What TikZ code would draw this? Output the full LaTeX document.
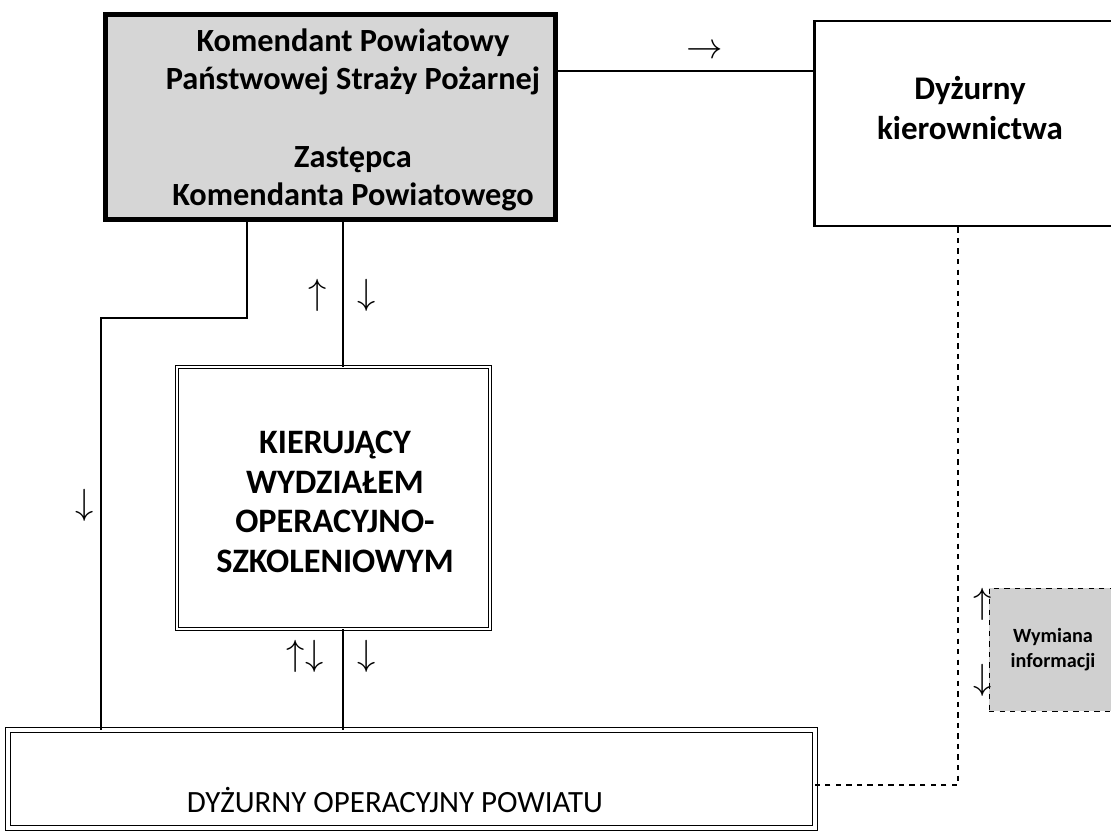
\documentclass[tikz,border=0pt]{standalone}
\usepackage{fontspec}
\setmainfont{Carlito}
\definecolor{boxgray}{RGB}{214,214,214}
\definecolor{infogray}{RGB}{208,208,208}
\begin{document}
\begin{tikzpicture}[x=0.02cm,y=-0.02cm,thick,
    chief/.style={draw,line width=2.6pt,fill=boxgray,minimum width=9.0cm,minimum height=4.1cm},
    duty/.style={draw,line width=1.6pt,fill=white,minimum width=6.22cm,minimum height=4.1cm},
    dbl/.style={draw,double,double distance=1.6pt,line width=0.5pt},
    info/.style={draw,dashed,line width=0.5pt,fill=infogray,minimum width=2.56cm,minimum height=2.46cm},
    conn/.style={line width=1.2pt},
    big/.style={font=\bfseries\fontsize{18.4}{22}\selectfont,align=center},
    arr/.style={font=\fontsize{22}{22}\selectfont,inner sep=0}]
    \useasboundingbox (0,0) rectangle (1111,831);
    %boxes
    \node (KPS) at (330.5,117) [chief]{};
    \node (KPStext) at (353,120) [big]{Komendant Powiatowy\\Państwowej Straży Pożarnej\\[22pt]Zastępca\\Komendanta Powiatowego};
    \node (DK) at (970,123.5) [duty]{};
    \node (DKtext) at (970,108) [big,font=\bfseries\fontsize{18.8}{22.7}\selectfont]{Dyżurny\\kierownictwa};
    \node (KIER) at (333.5,498) [dbl,minimum width=6.26cm,minimum height=5.24cm]{};
    \node (KIERtext) at (335,502) [big,font=\bfseries\fontsize{19.5}{22.5}\selectfont]{KIERUJĄCY\\WYDZIAŁEM\\OPERACYJNO-\\SZKOLENIOWYM};
    \node (DOP) at (411.5,779) [dbl,double distance=2pt,minimum width=16.14cm,minimum height=1.96cm]{};
    \node (DOPtext) at (395,800) [font=\fontsize{17.6}{20}\selectfont]{DYŻURNY OPERACYJNY POWIATU};
    \node (WI) at (1056,649.5) [info,font=\bfseries\fontsize{11.5}{14}\selectfont,align=center,xshift=-0.06cm]{Wymiana\\informacji};

    %connectors
    \draw [line width=0.6pt] (KPS.east |- 0,71) -- (DK.west |- 0,71);
    \draw [conn] (KPS.south -| 247,0) |- (101,318) -- (DOP.north -| 101,0);
    \draw [conn] (KPS.south -| 343,0) -- (KIER.north -| 343,0);
    \draw [conn] (KIER.south -| 343,0) -- (DOP.north -| 343,0);
    \draw [dashed,line width=0.6pt] (DK.south -| 958,0) |- (DOP.east |- 0,785);

    %arrow signs
    \node (aKD) at (705,52) [arr]{$\rightarrow$};
    \node (aL) at (85,505) [arr]{$\downarrow$};
    \node (aKu) at (318,295) [arr]{$\uparrow$};
    \node (aKd) at (367,295) [arr]{$\downarrow$};
    \node (aDud) at (305,656) [arr]{$\uparrow\downarrow$};
    \node (aDd) at (367,656) [arr]{$\downarrow$};
    \node (aWu) at (983,604) [arr]{$\uparrow$};
    \node (aWd) at (983,680) [arr]{$\downarrow$};
\end{tikzpicture}
\end{document}
